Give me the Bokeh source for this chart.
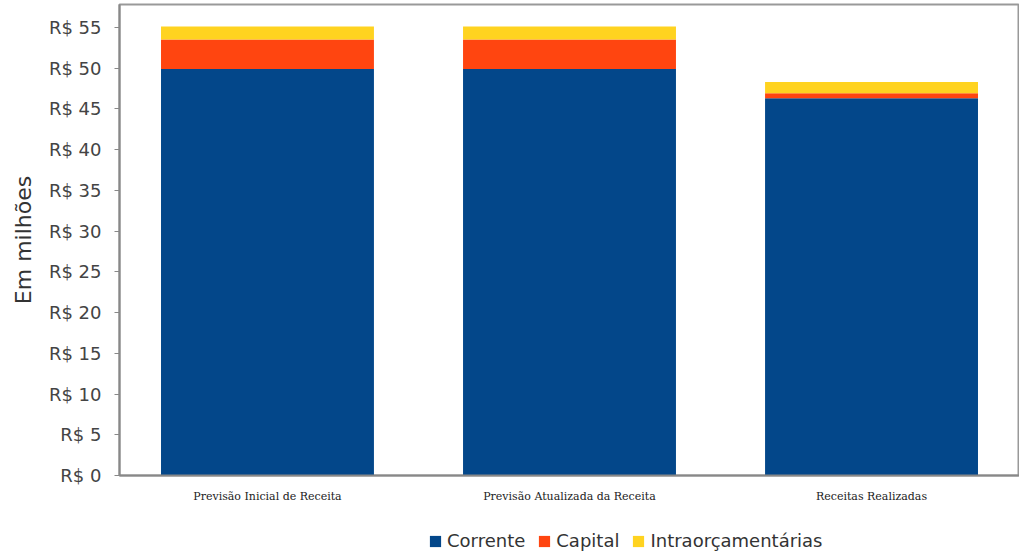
from bokeh.plotting import figure
from bokeh.layouts import column
from bokeh.models import FactorRange, Range1d, FixedTicker, PrintfTickFormatter, Legend, ColumnDataSource
from bokeh.embed import file_html
from bokeh.resources import INLINE

categories = ["Previsão Inicial de Receita", "Previsão Atualizada da Receita", "Receitas Realizadas"]
corrente = [49.9, 49.9, 46.3]
capital = [3.6, 3.6, 0.6]
intra = [1.6, 1.6, 1.4]
series = ["Corrente", "Capital", "Intraorçamentárias"]
colors = ["#03478a", "#ff4510", "#ffd320"]
y_ticks = [0, 5, 10, 15, 20, 25, 30, 35, 40, 45, 50, 55]

source = ColumnDataSource(dict(cat=categories, Corrente=corrente, Capital=capital,
                               Intraorçamentárias=intra))

p = figure(width=1019, height=506, output_backend="svg", toolbar_location=None,
           x_range=FactorRange(factors=categories, range_padding=-0.0067),
           y_range=Range1d(0, 57.8))
p.min_border_left = 119
p.min_border_right = 0
p.min_border_top = 4
p.min_border_bottom = 31

renderers = p.vbar_stack(series, x="cat", width=0.705, color=colors, source=source,
                         line_color=None)

p.xgrid.visible = False
p.ygrid.visible = False
p.outline_line_color = "#999999"
p.outline_line_width = 2
p.background_fill_color = "white"
p.border_fill_color = "white"

p.yaxis.ticker = FixedTicker(ticks=y_ticks)
p.yaxis.formatter = PrintfTickFormatter(format="R$ %d")
p.yaxis.major_label_text_font = "DejaVu Sans"
p.yaxis.major_label_text_font_size = "18px"
p.yaxis.major_label_text_color = "#444444"
p.yaxis.axis_line_color = "#888888"
p.yaxis.axis_line_width = 2
p.yaxis.major_tick_line_color = "#888888"
p.yaxis.major_tick_out = 5
p.yaxis.major_tick_in = 0
p.yaxis.minor_tick_line_color = None
p.yaxis.major_label_standoff = 13
p.yaxis.axis_label = "Em milhões"
p.yaxis.axis_label_text_font = "DejaVu Sans"
p.yaxis.axis_label_text_font_size = "22px"
p.yaxis.axis_label_text_font_style = "normal"
p.yaxis.axis_label_text_color = "#333333"
p.yaxis.axis_label_standoff = 10

p.xaxis.axis_line_color = "#888888"
p.xaxis.axis_line_width = 2
p.xaxis.major_tick_line_color = None
p.xaxis.minor_tick_line_color = None
p.xaxis.major_tick_out = 0
p.xaxis.major_tick_in = 0
p.xaxis.major_label_text_font = "DejaVu Serif"
p.xaxis.major_label_text_font_size = "11px"
p.xaxis.major_label_text_color = "#222222"
p.xaxis.major_label_standoff = 14

# Legend strip: a second figure whose stacked bars lie outside its y range,
# so only the legend built from them is visible.
q = figure(width=1019, height=46, output_backend="svg", toolbar_location=None,
           x_range=FactorRange(factors=categories), y_range=Range1d(1000, 1001),
           x_axis_type=None, y_axis_type=None)
q.min_border = 0
q.min_border_left = 0
q.min_border_right = 0
q.min_border_top = 0
q.min_border_bottom = 0
q.outline_line_color = None
q.xgrid.visible = False
q.ygrid.visible = False
q.background_fill_color = "white"
q.border_fill_color = "white"
leg_renderers = q.vbar_stack(series, x="cat", width=0.705, color=colors, source=source,
                             line_color=None)

legend = Legend(items=[(s, [r]) for s, r in zip(series, leg_renderers)],
                orientation="horizontal", location=(309, 1),
                label_text_font="DejaVu Sans", label_text_font_size="18px",
                label_text_color="#333333", glyph_width=14, glyph_height=14,
                label_standoff=5, spacing=12, border_line_color=None,
                background_fill_alpha=0, padding=2, margin=0)
q.add_layout(legend)

layout = column(p, q, spacing=0)
open("out.html", "w").write(file_html(layout, INLINE))
